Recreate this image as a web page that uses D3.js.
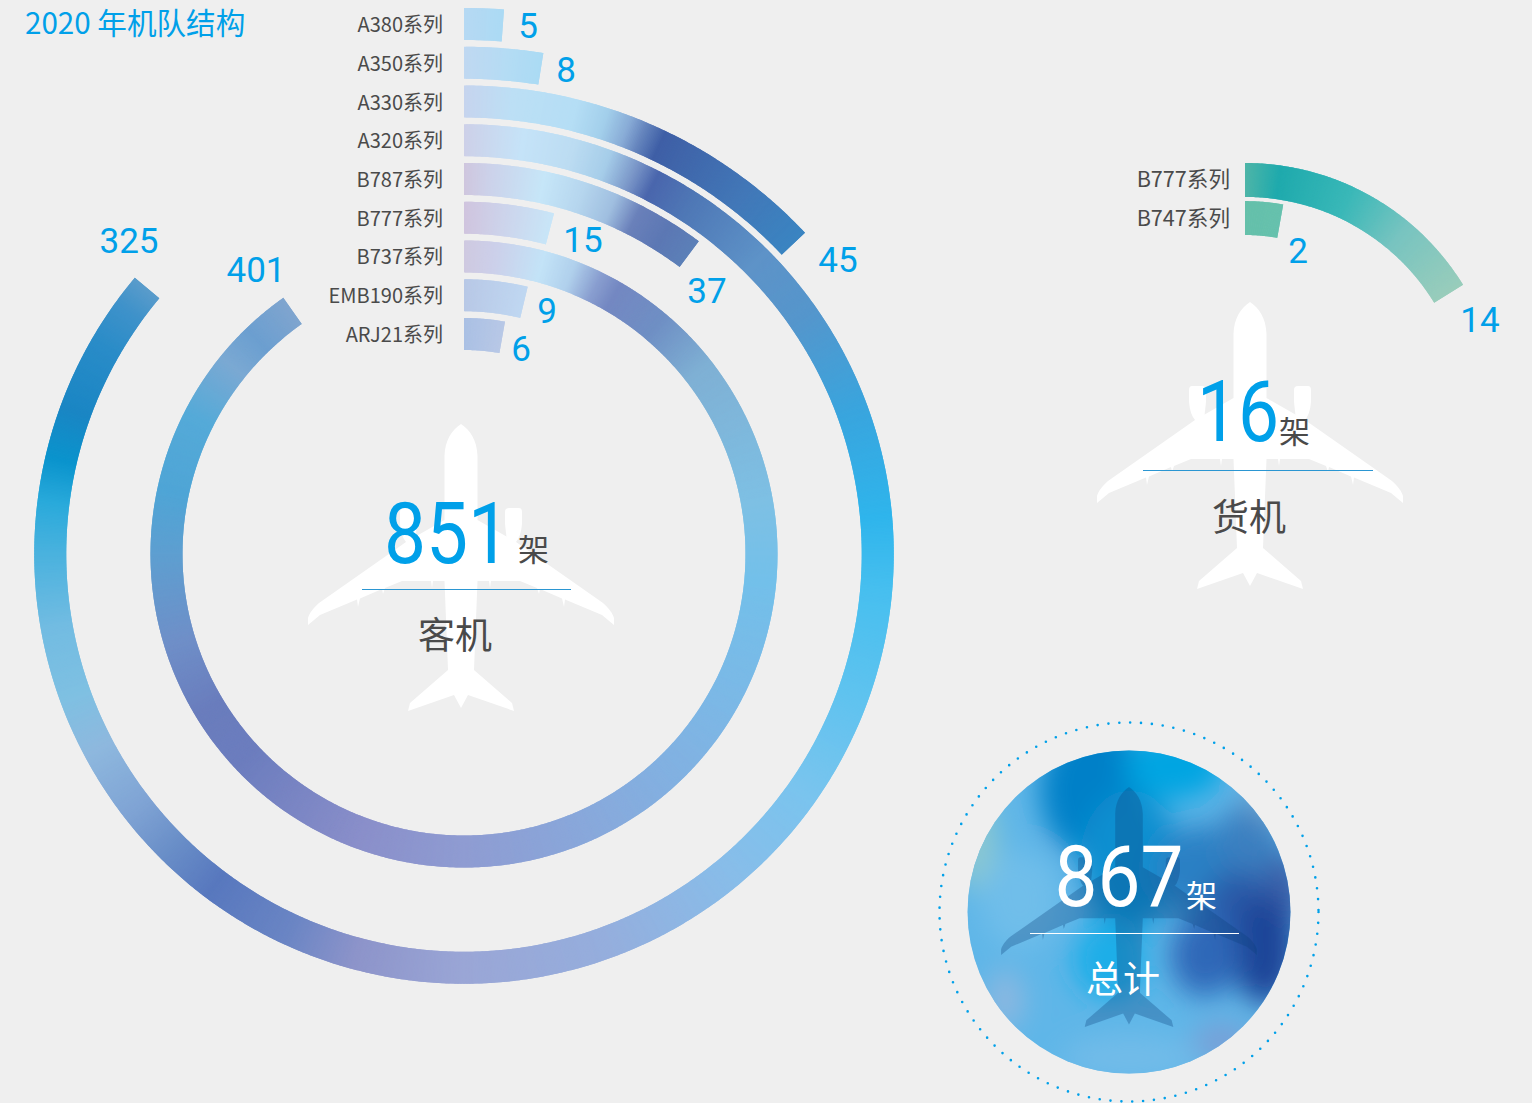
<!DOCTYPE html>
<html><head><meta charset="utf-8">
<script src="https://cdn.jsdelivr.net/npm/d3@7"></script>
<style>
html,body{margin:0;padding:0;background:#efefef}
svg{display:block}
text{font-family:"Noto Sans CJK SC","Noto Sans",sans-serif}
.num{font-family:"Roboto","Noto Sans",sans-serif;font-weight:400;fill:#00a0e9;text-anchor:middle}
.lab{fill:#4a4a4a;text-anchor:end}
</style></head><body>
<svg id="c" width="1532" height="1103"></svg>
<script>
// ---------- data ----------
const passengerCategories = ["A380系列","A350系列","A330系列","A320系列","B787系列","B777系列","B737系列","EMB190系列","ARJ21系列"];
const passengerValues = [5,8,45,325,37,15,401,9,6];
// sweep of each arc (the source is not strictly proportional)
const passengerSweepDeg = [4.2,9,46.7,310,36.9,14.8,324.8,13.4,10];
const cargoCategories = ["B777系列","B747系列"];
const cargoValues = [14,2];
const cargoSweepDeg = [58.4,10.1];
const passengerTotal = 851, cargoTotal = 16, fleetTotal = 867;

// colour ramps along each arc: [angle, colour]
const rampA380 = [[0,"#b6d9f3"],[5,"#a9daf4"]];
const rampA350 = [[0,"#c0d8f1"],[5,"#b4dcf4"],[10,"#a8daf4"]];
const rampA330 = [[0,"#c6d4ee"],[6,"#bcdff5"],[14,"#b5def5"],[18,"#a3cfeb"],[21,"#88abd6"],[23,"#6584bd"],[25.5,"#3f5fa6"],[30,"#4068ac"],[38,"#4278b8"],[47,"#3a85c2"]];
const rampA320 = [[0,"#cdd0e8"],[8,"#c5e3f8"],[15,"#bcdcf2"],[20,"#a6cde9"],[24,"#7a96c8"],[27,"#4a66ad"],[33,"#4f78b6"],[45,"#5e93c8"],[55,"#5596cc"],[70,"#39a5de"],[85,"#2fb5ec"],[95,"#47bfef"],[110,"#5fc3ef"],[125,"#7ac4ee"],[140,"#88bde9"],[160,"#95aedd"],[180,"#9aa6d6"],[195,"#8d94ca"],[205,"#6a85c4"],[217,"#5878be"],[225,"#6a8fc8"],[232,"#7fa3d4"],[242,"#8eb8de"],[250,"#7fc0e2"],[260,"#72bce2"],[270,"#4ab2de"],[277,"#2aaadb"],[283,"#0a94cd"],[290,"#1a86c4"],[300,"#2a8cc8"],[306,"#3f92ca"],[310,"#5a9ccb"]];
const rampB787 = [[0,"#cfc6de"],[4,"#ccd2ea"],[12,"#c6e6f8"],[18,"#b6d6ee"],[23,"#a0bfe0"],[27,"#6a80ba"],[32,"#5c78b4"],[37,"#5c80b8"]];
const rampB777 = [[0,"#d0c4de"],[6,"#cdd2ea"],[15,"#c8e6f8"]];
const rampB737 = [[0,"#cfc9e0"],[6,"#ccd0ea"],[15,"#c3e3f7"],[21,"#b0d0ec"],[26,"#8a9fd0"],[30,"#7488c2"],[40,"#6f8fc4"],[52,"#7fb0d4"],[80,"#7ec0e4"],[95,"#73c0ea"],[120,"#7cb8e6"],[150,"#87abdd"],[180,"#8f9cd2"],[200,"#8a8fca"],[227,"#6c7dbe"],[239,"#6a7dbd"],[253,"#6f8fc8"],[269,"#5f9ed0"],[282,"#4fa5d6"],[297,"#55aad8"],[309,"#7ba9d3"],[316,"#6c9fd0"],[325,"#80a5cf"]];
const rampEMB = [[0,"#b8c8e6"],[14,"#c0d8f2"]];
const rampARJ = [[0,"#aac0e4"],[10,"#b8c8e6"]];
const rampCargo777 = [[0,"#4eb5a8"],[8,"#1faaad"],[25,"#3ab8b8"],[40,"#78c4c0"],[59,"#9acdbb"]];
const rampCargo747 = [[0,"#65c0aa"],[11,"#66c1ae"]];
const passengerRamps = [rampA380,rampA350,rampA330,rampA320,rampB787,rampB777,rampB737,rampEMB,rampARJ];
const cargoRamps = [rampCargo777,rampCargo747];

// ---------- layout ----------
const svg = d3.select("#c");
svg.append("rect").attr("width",1532).attr("height",1103).attr("fill","#efefef");
const toRad = d3.scaleLinear().domain([0,360]).range([0,2*Math.PI]);
const BLUE = "#00a0e9";
const PLANE = "M0,0C-9,6 -16,16 -16.5,32L-16.5,96L-55,118L-142,179C-148,184 -152,190 -153,194L-153,201L-141,191L-104,175.500L-103,183L-101,174.500L-79,165L-78,170L-76,164L-59,157L-30,157L-29,164L-28,157L-16.5,157L-13,246L-51,279L-53,287L-7,271L0,284L7,271L53,287L51,279L13,246L16.5,157L28,157L29,164L30,157L59,157L76,164L78,170L79,165L101,174.500L103,183L104,175.500L141,191L153,201L153,194C152,190 148,184 142,179L55,118L16.500,96L16.500,32C16,16 9,6 0,0Z";
const ENGINE = "M-61,88Q-61,84 -58,84L-48,84Q-44,84 -44,88L-44,100L-46,118L-55,118Q-60,112 -61,100Z";

function plane(g,x,y,s,fill,op){
  const p = g.append("g").attr("transform",`translate(${x},${y}) scale(${s})`).attr("fill",fill).attr("opacity",op);
  p.append("path").attr("d",PLANE);
  p.append("path").attr("d",ENGINE);
  p.append("path").attr("d",ENGINE).attr("transform","scale(-1,1)");
}

function rings(g,cx,cy,cats,sweeps,ramps,band,labelRight,labelSize,labelDy){
  const arcGen = d3.arc();
  const gg = g.append("g").attr("transform",`translate(${cx},${cy})`);
  cats.forEach((c,i)=>{
    const top = band(c), R0 = cy-top-band.bandwidth(), R1 = cy-top;
    const color = d3.scaleLinear().domain(ramps[i].map(d=>d[0])).range(ramps[i].map(d=>d[1])).clamp(true);
    const step = 0.2, sw = sweeps[i];
    gg.selectAll(null).data(d3.range(0,sw,step)).join("path")
      .attr("d",a=>arcGen({innerRadius:R0,outerRadius:R1,startAngle:toRad(a),endAngle:toRad(Math.min(sw,a+step+0.2))}))
      .attr("fill",a=>color(a+step/2));
    g.append("text").attr("class","lab").attr("x",labelRight).attr("font-size",labelSize)
      .attr("y",top+band.bandwidth()/2+labelDy).text(c);
  });
}

// ---------- passenger ----------
plane(svg,461,424,1,"#ffffff",1);
const passengerBand = d3.scaleBand().domain(passengerCategories).range([8,350]).paddingInner(0.174);
rings(svg,464,554,passengerCategories,passengerSweepDeg,passengerRamps,passengerBand,443,20,8);

// ---------- cargo ----------
plane(svg,1250,302,1,"#ffffff",1);
const cargoBand = d3.scaleBand().domain(cargoCategories).range([163,235]).paddingInner(0.11);
rings(svg,1245,419,cargoCategories,cargoSweepDeg,cargoRamps,cargoBand,1230,21.6,7.5);

// value labels
const numFont = 35;
const passengerLabelAt = [[528,38],[566,82],[838,272],[707,303],[583,252],[547,323],[521,361],[129,253],[256,282]];
const order = [0,1,2,4,5,7,8,3,6];
order.forEach((idx,k)=>{
  svg.append("text").attr("class","num").attr("x",passengerLabelAt[k][0]).attr("y",passengerLabelAt[k][1])
    .attr("font-size",numFont).text(passengerValues[idx]);
});
const cargoLabelAt = [[1480,332],[1298,263]];
cargoValues.forEach((v,i)=>svg.append("text").attr("class","num").attr("x",cargoLabelAt[i][0]).attr("y",cargoLabelAt[i][1]).attr("font-size",numFont).text(v));

// title
svg.append("text").attr("x",25).attr("y",34).attr("fill",BLUE).attr("font-size",29.6).text("2020 年机队结构");

// center blocks
function centerBlock(g,numX,numScale,baseY,num,unitX,unitY,lineX0,lineX1,lineY,lineC,name,nameX,nameY,numC,unitC,nameC){
  g.append("text").attr("class","num").attr("transform",`translate(${numX},${baseY}) scale(${numScale},1)`)
    .attr("font-size",85).style("fill",numC).text(num);
  g.append("text").attr("x",unitX).attr("y",unitY).attr("font-size",31).attr("fill",unitC).text("架");
  g.append("line").attr("x1",lineX0).attr("x2",lineX1).attr("y1",lineY+0.5).attr("y2",lineY+0.5).attr("stroke",lineC).attr("stroke-width",1);
  g.append("text").attr("x",nameX).attr("y",nameY).attr("font-size",37).attr("text-anchor","middle").attr("fill",nameC).text(name);
}
centerBlock(svg,447,0.88,563,passengerTotal,518,561,362,571,589,"#2b96d2","客机",455,649,BLUE,"#4a4a4a","#4a4a4a");
centerBlock(svg,1238,0.86,441,cargoTotal,1279,443,1143,1373,470,"#2b96d2","货机",1249,531,BLUE,"#4a4a4a","#4a4a4a");

// ---------- total disc ----------
const defs = svg.append("defs");
defs.append("clipPath").attr("id","disc").append("circle").attr("cx",1129).attr("cy",912).attr("r",161.5);
defs.append("filter").attr("id","blur").attr("x","-50%").attr("y","-50%").attr("width","200%").attr("height","200%")
  .append("feGaussianBlur").attr("stdDeviation",14);
const disc = svg.append("g").attr("clip-path","url(#disc)");
disc.append("circle").attr("cx",1129).attr("cy",912).attr("r",162).attr("fill","#5fb6e8");
const blobs = disc.append("g").attr("filter","url(#blur)");
const discBlobs = [[1095,790,55,70,"#0080c8"],[1175,765,50,35,"#00a5e2"],[1130,860,50,70,"#0a8fd0"],[975,840,22,50,"#8cc8d0"],[1205,870,50,45,"#2a80c4"],[1250,840,30,40,"#3b7fc0"],[1275,795,28,28,"#6fa4d0"],[1240,905,35,35,"#2a5aa8"],[1285,890,20,40,"#3a5fa8"],[1265,950,32,55,"#1f4598"],[1205,955,35,42,"#2e68b8"],[1222,1042,30,18,"#7a9ed6"],[1110,960,38,40,"#1aaee8"],[1005,1000,18,30,"#8fb8e0"],[1130,1058,70,22,"#72bce9"],[1020,900,40,50,"#6fbeea"]];
blobs.selectAll("ellipse").data(discBlobs).join("ellipse")
  .attr("cx",d=>d[0]).attr("cy",d=>d[1]).attr("rx",d=>d[2]).attr("ry",d=>d[3]).attr("fill",d=>d[4]);
plane(svg,1129,787,0.836,"#0b3f7a",0.3);
centerBlock(svg,1119,0.9,906,fleetTotal,1186,907,1030,1239,933,"#ffffff","总计",1123,993,"#ffffff","#ffffff","#ffffff");
svg.append("circle").attr("cx",1129).attr("cy",912).attr("r",189.5).attr("fill","none")
  .attr("stroke",BLUE).attr("stroke-width",2.6).attr("stroke-linecap","round").attr("stroke-dasharray","0 10.9");
</script>
</body></html>
